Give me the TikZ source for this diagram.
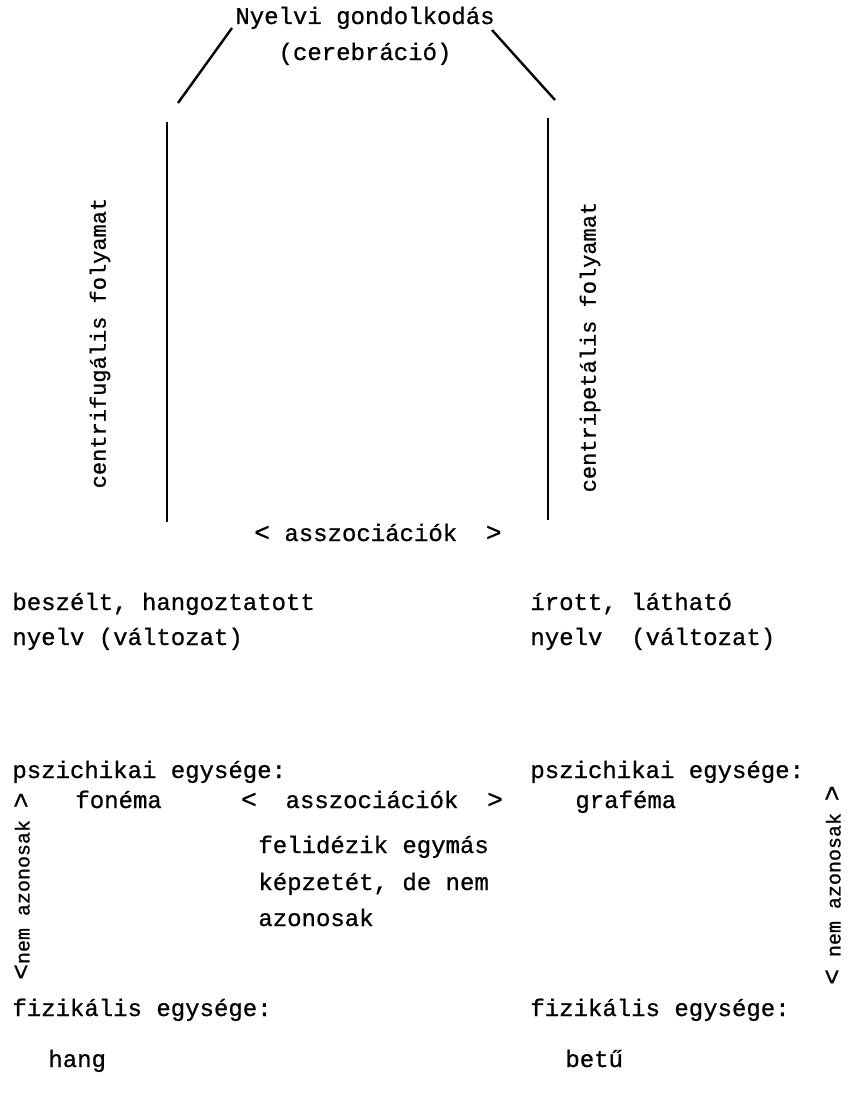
\documentclass[tikz,border=0pt]{standalone}
\usepackage{fontspec}
\setmainfont{Liberation Mono}[FakeBold=0.8]
\usetikzlibrary{positioning}

\newcommand{\Csucs}[1]{{\fontsize{13}{13}\selectfont#1}}

\tikzset{
  szoveg/.style={inner sep=0pt, anchor=base west, font=\fontsize{12}{14}\selectfont},
  kozep/.style={szoveg, anchor=base},
  fuggoleges/.style={inner sep=0pt, anchor=center, rotate=90, font=\fontsize{11}{13}\selectfont},
  kisfuggoleges/.style={fuggoleges, font=\fontsize{10}{12}\selectfont},
  vonal/.style={line width=1.2pt}
}

\begin{document}
\begin{tikzpicture}[x=0.5pt, y=-0.5pt]
    \useasboundingbox (0,0) rectangle (847,1108);

    % felso resz
    \node (gondolkodas) [kozep] at (365,24) {Nyelvi gondolkodás};
    \node (cerebracio) [kozep] at (365,60) {(cerebráció)};
    \coordinate (bal fent) at (232,28);
    \coordinate (bal lent) at (178,103);
    \coordinate (jobb fent) at (492,30);
    \coordinate (jobb lent) at (555,100);
    \draw[vonal] (bal fent) -- (bal lent);
    \draw[vonal] (jobb fent) -- (jobb lent);

    % folyamatok
    \coordinate (bal teteje) at (167,122);
    \coordinate (bal alja) at (167,522);
    \coordinate (jobb teteje) at (548,118);
    \coordinate (jobb alja) at (548,520);
    \draw[vonal] (bal teteje) -- (bal alja);
    \draw[vonal] (jobb teteje) -- (jobb alja);
    \node (centrifugalis) [fuggoleges] at (100,343) {centrifugális folyamat};
    \node (centripetalis) [fuggoleges] at (590,347) {centripetális folyamat};
    \node (asszociaciok1) [kozep] at (378,541) {\Csucs{<} asszociációk\ \ \Csucs{>}};

    % nyelvvaltozatok
    \node (beszelt) [szoveg] at (12,610) {beszélt, hangoztatott};
    \node (beszelt2) [szoveg] at (12,645) {nyelv (változat)};
    \node (irott) [szoveg] at (530,610) {írott, látható};
    \node (irott2) [szoveg] at (530,645) {nyelv\ \ (változat)};

    % pszichikai egysegek
    \node (pszich bal) [szoveg] at (12,778) {pszichikai egysége:};
    \node (fonema) [szoveg] at (75,808) {fonéma};
    \node (asszociaciok2) [kozep] at (372,808) {\Csucs{<}\ \ asszociációk\ \ \Csucs{>}};
    \node (pszich jobb) [szoveg] at (530,778) {pszichikai egysége:};
    \node (grafema) [szoveg] at (575,808) {graféma};

    \node (felidezik) [szoveg] at (258,853) {felidézik egymás};
    \node (kepzetet) [szoveg] at (258,890) {képzetét, de nem};
    \node (azonosak) [szoveg] at (258,926) {azonosak};

    \node (nem bal) [kisfuggoleges] at (22,886) {\Csucs{<}nem azonosak \Csucs{>}};
    \node (nem jobb) [kisfuggoleges] at (833,885) {\Csucs{<} nem azonosak \Csucs{>}};

    % fizikalis egysegek
    \node (fiz bal) [szoveg] at (12,1016) {fizikális egysége:};
    \node (hang) [szoveg] at (48,1067) {hang};
    \node (fiz jobb) [szoveg] at (530,1016) {fizikális egysége:};
    \node (betu) [szoveg] at (565,1067) {betű};
\end{tikzpicture}
\end{document}
